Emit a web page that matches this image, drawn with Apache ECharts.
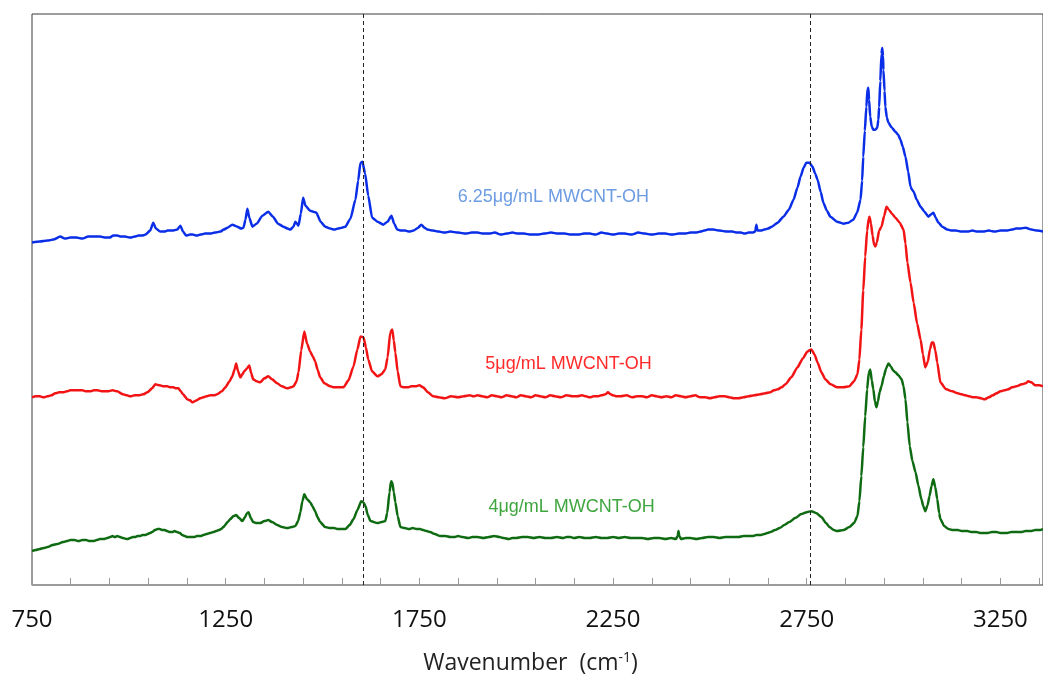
<!DOCTYPE html>
<html>
<head>
<meta charset="utf-8">
<script src="https://cdn.jsdelivr.net/npm/echarts@6/dist/echarts.min.js"></script>
<style>
  html, body { margin: 0; padding: 0; background: #fff; }
  #chart { width: 1043px; height: 680px; }
</style>
</head>
<body>
<div id="chart"></div>
<script>
// Raman spectra of MWCNT-OH samples: [wavenumber (cm-1), intensity (a.u., stacked offsets included)]
const spec625 = [
  [750,343],[770,344],[790,345],[805,346],[823,349],[835,347],[849,348],[865,348],[880,347],[895,349],
  [908,349],[926,349],[940,348],[950,348],[960,350],[970,350],[980,349],[990,349],[1004,348],[1015,349],
  [1025,350],[1035,350],[1043,351],[1055,355],[1063,363],[1070,357],[1081,354],[1092,354],[1100,355],
  [1112,355],[1125,356],[1133,360],[1140,354],[1148,350],[1158,351],[1165,351],[1175,350],[1185,351],
  [1197,352],[1210,352],[1222,353],[1236,354],[1245,356],[1255,358],[1267,361],[1280,359],[1290,357],
  [1296,358],[1301,366],[1306,377],[1311,368],[1319,359],[1330,362],[1345,370],[1360,374],[1372,369],
  [1385,362],[1399,359],[1410,357],[1417,356],[1425,359],[1430,364],[1438,360],[1444,372],[1450,388],
  [1456,380],[1468,375],[1476,374],[1484,373],[1495,364],[1507,359],[1520,357],[1530,356],[1540,357],
  [1550,358],[1559,359],[1572,367],[1585,386],[1592,405],[1598,423],[1603,424],[1610,412],[1618,390],
  [1628,368],[1642,364],[1657,361],[1668,364],[1678,370],[1685,362],[1693,356],[1703,355],[1713,355],
  [1724,354],[1735,355],[1747,358],[1755,361],[1763,358],[1771,356],[1785,355],[1800,354],[1815,353],
  [1830,354],[1850,353],[1870,352],[1885,353],[1900,353],[1915,352],[1930,352],[1945,353],[1960,351],
  [1975,352],[1990,353],[2005,352],[2020,352],[2038,351],[2055,351],[2072,352],[2090,353],[2108,352],
  [2125,352],[2142,351],[2160,351],[2175,352],[2190,352],[2205,351],[2220,353],[2235,352],[2250,351],
  [2265,352],[2280,352],[2298,351],[2315,353],[2332,352],[2350,351],[2368,352],[2385,352],[2402,351],
  [2420,352],[2435,352],[2450,353],[2463,353],[2476,354],[2485,355],[2495,356],[2509,356],[2525,355],
  [2545,354],[2558,354],[2570,353],[2580,353],[2590,352],[2600,353],[2610,353],[2617,354],[2620,361],
  [2623,355],[2632,355],[2640,356],[2650,357],[2660,359],[2675,363],[2690,369],[2704,376],[2716,386],
  [2726,398],[2734,409],[2742,418],[2749,423],[2757,423],[2765,419],[2772,412],[2778,406],[2786,394],
  [2793,383],[2802,375],[2811,369],[2828,364],[2845,362],[2858,363],[2870,366],[2880,373],[2889,386],
  [2893,405],[2896,429],[2900,455],[2904,479],[2907,497],[2909,498],[2911,486],[2914,469],[2918,459],
  [2922,456],[2927,456],[2932,458],[2935,466],[2937,479],[2940,505],[2943,532],[2945,538],[2947,530],
  [2948,516],[2951,495],[2953,479],[2957,468],[2961,463],[2970,458],[2979,454],[2986,451],[2992,446],
  [2998,439],[3005,429],[3012,414],[3018,399],[3022,396],[3026,394],[3034,386],[3044,379],[3054,374],
  [3064,369],[3070,371],[3077,373],[3083,368],[3090,363],[3100,359],[3113,356],[3125,355],[3135,355],
  [3150,354],[3165,354],[3178,355],[3190,354],[3205,354],[3220,355],[3235,354],[3250,355],[3265,355],
  [3280,356],[3290,357],[3300,357],[3315,358],[3330,356],[3345,355],[3360,354]
];

const spec5 = [
  [750,188],[760,189],[770,189],[780,188],[790,189],[800,190],[810,192],[820,193],[830,193],[840,194],
  [849,195],[865,195],[880,195],[890,194],[900,194],[910,195],[919,195],[932,194],[945,194],[958,195],
  [970,194],[985,191],[995,190],[1004,189],[1015,190],[1025,190],[1037,191],[1048,193],[1060,197],
  [1068,201],[1080,200],[1090,199],[1099,199],[1108,198],[1115,198],[1122,197],[1128,197],[1134,194],
  [1140,191],[1151,186],[1158,185],[1164,183],[1170,184],[1175,185],[1184,187],[1192,188],[1200,189],
  [1210,190],[1220,190],[1228,191],[1240,194],[1249,198],[1260,204],[1267,209],[1273,216],[1277,222],
  [1282,214],[1288,208],[1293,211],[1298,214],[1305,217],[1311,220],[1316,212],[1321,206],[1330,204],
  [1339,203],[1350,207],[1360,209],[1370,206],[1383,202],[1395,199],[1409,197],[1418,198],[1425,199],
  [1433,204],[1438,213],[1445,235],[1453,254],[1460,242],[1468,234],[1475,229],[1481,224],[1487,216],
  [1494,208],[1505,202],[1520,199],[1530,198],[1540,198],[1554,198],[1567,205],[1580,219],[1590,236],
  [1598,249],[1606,248],[1612,238],[1618,226],[1628,214],[1642,209],[1652,211],[1662,216],[1668,228],
  [1675,253],[1680,256],[1684,245],[1688,233],[1694,214],[1701,199],[1710,198],[1720,198],[1729,199],
  [1740,199],[1750,200],[1760,198],[1772,193],[1786,189],[1800,188],[1815,187],[1832,189],[1850,188],
  [1865,189],[1880,190],[1890,189],[1900,190],[1912,189],[1925,188],[1937,190],[1950,189],[1962,188],
  [1975,190],[1988,189],[2000,188],[2012,190],[2025,189],[2038,188],[2050,190],[2062,189],[2075,188],
  [2088,190],[2100,189],[2115,188],[2130,190],[2145,189],[2158,189],[2170,190],[2180,189],[2190,188],
  [2200,189],[2210,189],[2220,190],[2230,191],[2237,193],[2244,191],[2250,190],[2260,189],[2270,189],
  [2285,190],[2300,188],[2312,189],[2325,189],[2337,188],[2350,190],[2362,189],[2375,188],[2388,189],
  [2400,188],[2412,190],[2425,189],[2437,188],[2450,189],[2462,190],[2475,188],[2488,188],[2500,187],
  [2512,188],[2525,189],[2538,189],[2550,188],[2562,187],[2574,187],[2587,188],[2600,189],[2615,190],
  [2630,191],[2643,192],[2656,193],[2665,195],[2675,196],[2685,198],[2695,201],[2710,208],[2726,218],
  [2740,227],[2752,234],[2762,236],[2770,231],[2778,223],[2788,213],[2798,206],[2812,201],[2829,198],
  [2845,198],[2860,199],[2872,204],[2881,211],[2886,226],[2891,256],[2896,295],[2901,329],[2906,355],
  [2910,367],[2912,369],[2916,362],[2920,350],[2924,341],[2927,339],[2931,343],[2937,355],[2943,359],
  [2950,370],[2956,379],[2962,376],[2970,372],[2979,368],[2990,363],[3000,356],[3005,342],[3010,323],
  [3018,303],[3026,283],[3035,262],[3044,246],[3050,231],[3056,218],[3063,224],[3068,236],[3073,243],
  [3077,243],[3082,235],[3087,223],[3095,203],[3110,196],[3126,194],[3140,192],[3150,191],[3160,190],
  [3170,189],[3180,188],[3188,188],[3200,187],[3209,186],[3220,188],[3230,190],[3240,192],[3250,194],
  [3260,195],[3270,196],[3280,198],[3291,199],[3305,201],[3315,202],[3322,204],[3330,203],[3340,200],
  [3350,200],[3360,199]
];

const spec4 = [
  [750,34],[760,35],[770,36],[780,37],[790,38],[803,40],[815,41],[830,43],[840,44],[849,45],[860,45],
  [870,44],[880,45],[890,45],[899,44],[908,44],[917,45],[925,46],[935,46],[944,47],[951,48],[958,49],
  [964,48],[970,49],[978,48],[985,47],[996,46],[1003,47],[1010,48],[1016,48],[1022,49],[1028,49],
  [1035,50],[1042,50],[1048,51],[1054,52],[1060,53],[1067,55],[1074,56],[1080,56],[1087,55],[1093,55],
  [1099,54],[1106,53],[1112,53],[1118,54],[1125,53],[1132,52],[1138,50],[1145,49],[1151,48],[1160,48],
  [1168,48],[1176,49],[1185,49],[1192,50],[1200,51],[1209,52],[1218,53],[1225,54],[1232,55],[1238,56],
  [1244,58],[1255,63],[1262,66],[1270,69],[1277,70],[1285,67],[1293,64],[1300,68],[1305,72],[1309,73],
  [1315,67],[1321,63],[1330,62],[1339,62],[1350,64],[1360,65],[1370,63],[1383,60],[1396,58],[1409,57],
  [1420,58],[1430,59],[1437,64],[1443,73],[1448,84],[1453,91],[1460,86],[1468,83],[1474,79],[1481,74],
  [1487,68],[1494,63],[1507,58],[1520,57],[1530,57],[1540,56],[1550,56],[1559,56],[1570,60],[1580,66],
  [1590,75],[1600,84],[1605,83],[1611,79],[1617,70],[1624,64],[1642,62],[1652,63],[1662,64],[1667,72],
  [1673,93],[1677,104],[1680,103],[1684,93],[1688,83],[1694,69],[1701,58],[1712,57],[1724,56],[1732,57],
  [1745,56],[1752,56],[1760,55],[1769,54],[1778,53],[1790,51],[1804,49],[1817,49],[1830,48],[1840,48],
  [1850,49],[1862,48],[1875,47],[1887,48],[1900,48],[1915,47],[1930,48],[1943,49],[1957,48],[1968,47],
  [1980,46],[1990,47],[2000,47],[2015,48],[2030,48],[2045,47],[2060,48],[2075,47],[2090,47],[2105,48],
  [2120,47],[2130,48],[2140,48],[2150,47],[2163,48],[2177,47],[2190,47],[2205,48],[2220,47],[2235,47],
  [2250,48],[2265,47],[2280,48],[2295,47],[2310,47],[2325,47],[2340,46],[2355,47],[2370,47],[2385,46],
  [2400,47],[2412,46],[2417,49],[2419,54],[2421,49],[2426,46],[2438,47],[2450,47],[2465,46],[2480,47],
  [2495,48],[2510,48],[2525,47],[2540,48],[2557,48],[2574,48],[2587,49],[2600,49],[2610,49],[2620,50],
  [2630,50],[2640,51],[2648,52],[2656,53],[2668,55],[2680,57],[2692,60],[2705,63],[2720,67],[2736,71],
  [2750,73],[2762,74],[2775,72],[2788,68],[2800,62],[2809,58],[2820,55],[2829,54],[2845,55],[2860,58],
  [2872,62],[2881,69],[2886,84],[2891,109],[2896,138],[2901,169],[2906,196],[2910,212],[2914,216],
  [2918,205],[2922,196],[2926,184],[2930,178],[2934,184],[2938,193],[2943,199],[2949,209],[2955,217],
  [2961,222],[2967,219],[2973,215],[2979,213],[2987,210],[2995,206],[3000,199],[3005,186],[3010,163],
  [3016,139],[3023,124],[3031,113],[3038,100],[3046,86],[3051,79],[3056,74],[3062,80],[3067,89],
  [3072,99],[3077,106],[3082,98],[3087,86],[3092,72],[3095,66],[3105,59],[3116,56],[3128,55],[3140,55],
  [3152,54],[3165,54],[3176,53],[3188,53],[3200,52],[3215,52],[3228,53],[3240,53],[3252,52],[3265,52],
  [3278,53],[3291,53],[3303,53],[3315,54],[3328,54],[3340,55],[3350,55],[3360,56]
];

// Sample labels and their anchor points (wavenumber, intensity)
const sampleNames = ['6.25μg/mL MWCNT-OH', '5μg/mL MWCNT-OH', '4μg/mL MWCNT-OH'];
const labelAnchors = [[2096, 389], [2135, 221], [2143, 78]];

// Reference band positions marked with dashed lines
const bandLines = [1605, 2760];

// Axis ticks and labels
const tickValues = [750,850,950,1050,1150,1250,1350,1450,1550,1650,1750,1850,1950,2050,2150,2250,
                    2350,2450,2550,2650,2750,2850,2950,3050,3150,3250,3350];
const labelValues = [750, 1250, 1750, 2250, 2750, 3250];

const lineColors = ['#0a2ee8', '#f21414', '#0f6b12'];
const textColors = ['#6d9ce2', '#ff2a2a', '#3fa63f'];
const spectra = [spec625, spec5, spec4];

const chart = echarts.init(document.getElementById('chart'), null, { renderer: 'canvas' });

const series = spectra.map((data, i) => ({
  type: 'line',
  name: sampleNames[i],
  data: data,
  showSymbol: false,
  smooth: 0.2,
  smoothMonotone: 'x',
  lineStyle: { color: lineColors[i], width: 2.5 },
  z: 3,
  silent: true,
  markPoint: {
    symbol: 'circle',
    symbolSize: 0,
    data: [{ coord: labelAnchors[i] }],
    label: {
      show: true,
      position: 'inside',
      formatter: sampleNames[i],
      color: textColors[i],
      fontFamily: 'Liberation Sans',
      fontSize: 18
    }
  }
}));

series.push({
  type: 'line',
  data: [],
  silent: true,
  markLine: {
    symbol: 'none',
    silent: true,
    label: { show: false },
    lineStyle: { color: '#222', width: 1, type: [4, 3] },
    data: bandLines.map(v => ({ xAxis: v }))
  }
});

chart.setOption({
  animation: false,
  backgroundColor: '#fff',
  grid: {
    left: 32, right: 0, top: 14, bottom: 94,
    show: true, borderColor: '#3a3a3a', borderWidth: 1, backgroundColor: 'transparent'
  },
  xAxis: {
    type: 'value',
    min: 750,
    max: 3360,
    name: 'Wavenumber  (cm{sup|-1})',
    nameLocation: 'middle',
    nameGap: 66,
    nameTextStyle: {
      fontFamily: 'Open Sans',
      fontSize: 23,
      color: '#222',
      padding: [0, 14, 0, 0],
      rich: {
        sup: { fontFamily: 'Open Sans', fontSize: 14, color: '#222', verticalAlign: 'top', padding: [0, 0, 11, 0] }
      }
    },
    axisLine: { show: true, lineStyle: { color: '#9a9a9a', width: 1 } },
    axisTick: { show: true, inside: true, length: 7, lineStyle: { color: '#9a9a9a' }, customValues: tickValues },
    axisLabel: {
      show: true,
      customValues: labelValues,
      formatter: v => String(v),
      margin: 23,
      fontFamily: 'Open Sans',
      fontSize: 24,
      color: '#111'
    },
    splitLine: { show: false }
  },
  yAxis: {
    type: 'value',
    min: 0,
    max: 572,
    show: false
  },
  series: series
});
</script>
</body>
</html>
